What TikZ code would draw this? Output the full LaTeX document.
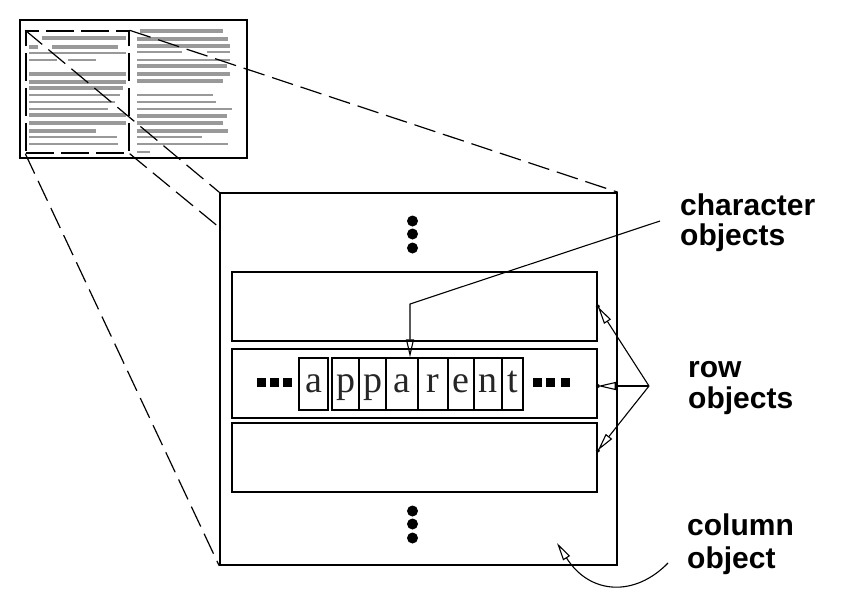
\documentclass[tikz,border=0pt]{standalone}
\usepackage{fontspec}
\setmainfont{Liberation Serif}
\setsansfont{Liberation Sans}
\usetikzlibrary{arrows.meta,calc}
\begin{document}
\begin{tikzpicture}[x=1pt,y=-1pt,
  rect/.style={draw, line width=1.6pt, inner sep=0pt},
  selbox/.style={draw, line width=1.4pt, inner sep=0pt, dash pattern=on 28pt off 7pt},
  proj/.style={line width=1.2pt, dash pattern=on 22pt off 8pt},
  charbox/.style={draw, line width=1.4pt, inner sep=0pt, minimum height=52pt,
     font=\fontsize{38}{38}\selectfont, text=black!85, text height=17pt, text depth=0pt},
  lab/.style={anchor=base west, inner sep=0pt, font=\sffamily\bfseries\fontsize{30}{29}\selectfont},
  conn/.style={line width=1.1pt},
  tip/.style={-{Triangle[open,length=18pt,width=8pt]}},
  bar/.style={fill=black!40}
]
\useasboundingbox (0,0) rectangle (842,608);

% --- page thumbnail
\node[rect, minimum width=227pt, minimum height=138pt] (page) at (133.5,89) {};
\foreach \y/\a/\b/\h in {38/42/126/4, 47/29/38/4, 47/52/118/4, 53/29/126/2,
   60/29/57/2, 60/68/96/2, 74/29/126/4, 82/29/126/4, 88/29/123/4, 95/29/120/2,
   102/29/115/2, 109/29/108/2, 115/29/126/4, 123/29/126/4, 131/29/96/4,
   137/29/117/2, 144/29/118/2,
   31/140/223/4, 39/137/228/4, 46/137/230/4, 52/137/182/2, 52/207/230/2,
   60/137/230/2, 66/137/227/4, 74/137/230/4, 81/137/223/4, 95/137/213/2,
   102/137/216/2, 109/137/232/2, 116/137/227/4, 123/137/223/4, 131/137/228/4,
   137/137/202/2, 144/137/228/2, 152/137/150/2}
  \fill[bar] (\a,{\y-\h/2}) rectangle (\b,{\y+\h/2});
\node[selbox, minimum width=103pt, minimum height=122pt] (sel) at (77.5,92) {};

% --- column object
\node[rect, minimum width=397pt, minimum height=372pt] (col) at (418.5,379) {};
\coordinate (colL) at (220,228);

% --- projection lines
\draw[proj] (sel.north west) -- (col.north west);
\draw[proj] (sel.north east) -- (col.north east);
\draw[proj] (sel.south east) -- (colL);
\draw[proj] (sel.south west) -- (col.south west);

% --- rows
\node[rect, minimum width=365pt, minimum height=69pt] (r1) at (414.5,306.5) {};
\node[rect, minimum width=365pt, minimum height=69pt] (r2) at (414.5,383.5) {};
\node[rect, minimum width=365pt, minimum height=69pt] (r3) at (414.5,457.5) {};

% --- vertical dots
\foreach \y in {221,234,248,511,524,538}
  \fill (412.5,\y) circle (5.5pt);

% --- character objects
\node[charbox, minimum width=29pt] (c1) at (313.5,384) {a};
\node[charbox, minimum width=27pt] (c2) at (345.5,384) {p};
\node[charbox, minimum width=27pt] (c3) at (372.5,384) {p};
\node[charbox, minimum width=32pt] (c4) at (402,384) {a};
\node[charbox, minimum width=30pt] (c5) at (433,384) {r};
\node[charbox, minimum width=26pt] (c6) at (461,384) {e};
\node[charbox, minimum width=28pt] (c7) at (488,384) {n};
\node[charbox, minimum width=21pt] (c8) at (512.5,384) {t};

% --- horizontal ellipses
\foreach \x in {261,274,287,537,550,565}
  \fill (\x-4.5,377.5) rectangle (\x+4.5,386.5);

% --- labels
\node[lab] (lchar) at (680,215) {\begin{tabular}[t]{@{}l@{}}character\\objects\end{tabular}};
\node[lab] (lrow) at (688,377) {\begin{tabular}[t]{@{}l@{}}row\\[1pt]objects\end{tabular}};
\node[lab] (lcol) at (687,535) {\begin{tabular}[t]{@{}l@{}}column\\[3pt]object\end{tabular}};

% --- connectors
\coordinate (chsrc) at (660,221);
\coordinate (chbend) at (410,304);
\draw[conn, tip] (chsrc) -- (chbend) -- (chbend |- c4.north);

\coordinate (rowhub) at (649,386);
\draw[conn, tip] (rowhub) -- (r1.east);
\draw[conn, tip] (rowhub) -- (r2.east |- rowhub);
\draw[conn, tip] (rowhub) -- ($(r3.east)+(0,-7)$);
\fill (r1.east) circle (2pt);
\fill (r2.east |- rowhub) circle (2pt);
\fill ($(r3.east)+(0,-7)$) circle (2pt);

\coordinate (colsrc) at (668,563);
\coordinate (coltip) at (557,543);
\draw[conn, tip] (colsrc) .. controls (635,597) and (590,595) .. (coltip);
\end{tikzpicture}
\end{document}
